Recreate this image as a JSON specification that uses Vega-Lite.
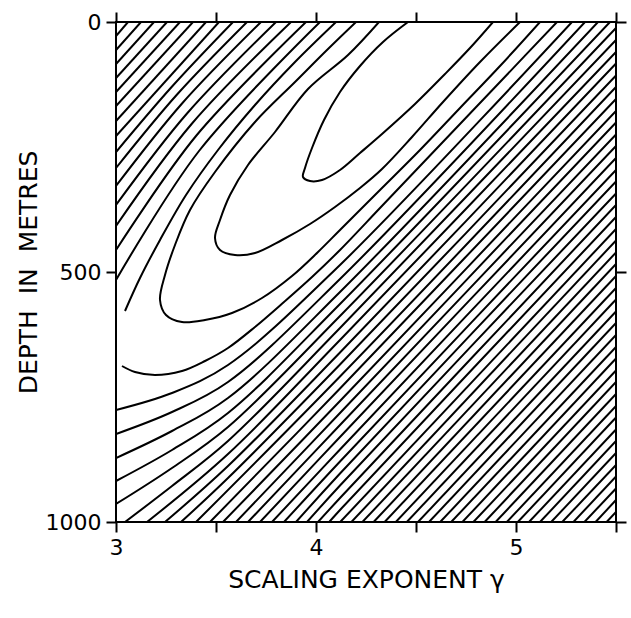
{
"$schema": "https://vega.github.io/schema/vega-lite/v6.json",
"width": 500, "height": 500,
"autosize": {"type": "none"},
"padding": {"left": 116, "top": 22, "right": 15, "bottom": 96},
"background": "white",
"config": {
 "view": {"stroke": "black", "strokeWidth": 2},
 "axis": {"domain": false, "grid": false, "tickColor": "black", "tickWidth": 2, "tickSize": 10, "labelColor": "black", "labelFont": "DejaVu Sans", "labelFontSize": 22, "titleFont": "DejaVu Sans", "titleFontSize": 25, "titleFontWeight": "normal", "titleColor": "black", "labelFlush": false}
},
"datasets": {"c": [
{"c":"A1","i":0,"g":3.06,"d":0},{"c":"A1","i":1,"g":3.0,"d":28},
{"c":"A2","i":0,"g":3.125,"d":0},{"c":"A2","i":1,"g":3.0,"d":56},
{"c":"A3","i":0,"g":3.19,"d":0},{"c":"A3","i":1,"g":3.0,"d":84},
{"c":"A4","i":0,"g":3.255,"d":0},{"c":"A4","i":1,"g":3.0,"d":112},
{"c":"A5","i":0,"g":3.32,"d":0},{"c":"A5","i":1,"g":3.0,"d":140},
{"c":"A6","i":0,"g":3.385,"d":0},{"c":"A6","i":1,"g":3.0,"d":168},
{"c":"A7","i":0,"g":3.45,"d":0},{"c":"A7","i":1,"g":3.0,"d":198},
{"c":"A8","i":0,"g":3.515,"d":0},{"c":"A8","i":1,"g":3.0,"d":228},
{"c":"A9","i":0,"g":3.585,"d":0},{"c":"A9","i":1,"g":3.278,"d":130},{"c":"A9","i":2,"g":3.0,"d":260},
{"c":"A10","i":0,"g":3.655,"d":0},{"c":"A10","i":1,"g":3.303,"d":146},{"c":"A10","i":2,"g":3.0,"d":292},
{"c":"A11","i":0,"g":3.725,"d":0},{"c":"A11","i":1,"g":3.328,"d":164},{"c":"A11","i":2,"g":3.0,"d":328},
{"c":"A12","i":0,"g":3.8,"d":0},{"c":"A12","i":1,"g":3.355,"d":183},{"c":"A12","i":2,"g":3.0,"d":366},
{"c":"A13","i":0,"g":3.875,"d":0},{"c":"A13","i":1,"g":3.378,"d":204},{"c":"A13","i":2,"g":3.0,"d":408},
{"c":"A14","i":0,"g":3.95,"d":0},{"c":"A14","i":1,"g":3.4,"d":228},{"c":"A14","i":2,"g":3.0,"d":456},
{"c":"A15","i":0,"g":4.02,"d":0},{"c":"A15","i":1,"g":3.415,"d":258},{"c":"A15","i":2,"g":3.0,"d":516},
{"c":"U4a","i":0,"g":4.1,"d":0},{"c":"U4a","i":1,"g":3.895,"d":80},{"c":"U4a","i":2,"g":3.695,"d":166},{"c":"U4a","i":3,"g":3.51,"d":256},{"c":"U4a","i":4,"g":3.35,"d":346},{"c":"U4a","i":5,"g":3.22,"d":436},{"c":"U4a","i":6,"g":3.12,"d":512},{"c":"U4a","i":7,"g":3.045,"d":578},
{"c":"U1","i":0,"g":4.46,"d":0},{"c":"U1","i":1,"g":4.335,"d":40},{"c":"U1","i":2,"g":4.22,"d":88},{"c":"U1","i":3,"g":4.12,"d":140},{"c":"U1","i":4,"g":4.04,"d":196},{"c":"U1","i":5,"g":3.98,"d":252},{"c":"U1","i":6,"g":3.945,"d":292},{"c":"U1","i":7,"g":3.935,"d":310},{"c":"U1","i":8,"g":3.97,"d":318},{"c":"U1","i":9,"g":4.03,"d":316},{"c":"U1","i":10,"g":4.12,"d":296},{"c":"U1","i":11,"g":4.22,"d":262},{"c":"U1","i":12,"g":4.33,"d":224},{"c":"U1","i":13,"g":4.495,"d":164},{"c":"U1","i":14,"g":4.645,"d":104},{"c":"U1","i":15,"g":4.77,"d":52},{"c":"U1","i":16,"g":4.885,"d":0},
{"c":"U2","i":0,"g":4.315,"d":0},{"c":"U2","i":1,"g":4.16,"d":66},{"c":"U2","i":2,"g":3.96,"d":134},{"c":"U2","i":3,"g":3.795,"d":220},{"c":"U2","i":4,"g":3.66,"d":286},{"c":"U2","i":5,"g":3.57,"d":346},{"c":"U2","i":6,"g":3.52,"d":396},{"c":"U2","i":7,"g":3.495,"d":432},{"c":"U2","i":8,"g":3.52,"d":456},{"c":"U2","i":9,"g":3.595,"d":466},{"c":"U2","i":10,"g":3.695,"d":462},{"c":"U2","i":11,"g":3.83,"d":436},{"c":"U2","i":12,"g":3.97,"d":404},{"c":"U2","i":13,"g":4.095,"d":370},{"c":"U2","i":14,"g":4.22,"d":332},{"c":"U2","i":15,"g":4.33,"d":294},{"c":"U2","i":16,"g":4.48,"d":230},{"c":"U2","i":17,"g":4.635,"d":160},{"c":"U2","i":18,"g":4.82,"d":80},{"c":"U2","i":19,"g":5.02,"d":0},
{"c":"U3","i":0,"g":4.2,"d":0},{"c":"U3","i":1,"g":4.06,"d":54},{"c":"U3","i":2,"g":3.895,"d":120},{"c":"U3","i":3,"g":3.695,"d":200},{"c":"U3","i":4,"g":3.495,"d":300},{"c":"U3","i":5,"g":3.37,"d":376},{"c":"U3","i":6,"g":3.295,"d":446},{"c":"U3","i":7,"g":3.245,"d":506},{"c":"U3","i":8,"g":3.22,"d":556},{"c":"U3","i":9,"g":3.25,"d":586},{"c":"U3","i":10,"g":3.33,"d":600},{"c":"U3","i":11,"g":3.445,"d":596},{"c":"U3","i":12,"g":3.58,"d":582},{"c":"U3","i":13,"g":3.73,"d":552},{"c":"U3","i":14,"g":3.88,"d":508},{"c":"U3","i":15,"g":4.01,"d":460},{"c":"U3","i":16,"g":4.12,"d":416},{"c":"U3","i":17,"g":4.32,"d":336},{"c":"U3","i":18,"g":4.52,"d":256},{"c":"U3","i":19,"g":4.72,"d":172},{"c":"U3","i":20,"g":4.92,"d":88},{"c":"U3","i":21,"g":5.12,"d":0},
{"c":"U4b","i":0,"g":3.03,"d":688},{"c":"U4b","i":1,"g":3.095,"d":700},{"c":"U4b","i":2,"g":3.195,"d":706},{"c":"U4b","i":3,"g":3.33,"d":698},{"c":"U4b","i":4,"g":3.445,"d":678},{"c":"U4b","i":5,"g":3.56,"d":652},{"c":"U4b","i":6,"g":3.695,"d":610},{"c":"U4b","i":7,"g":3.84,"d":560},{"c":"U4b","i":8,"g":3.98,"d":510},{"c":"U4b","i":9,"g":4.12,"d":456},{"c":"U4b","i":10,"g":4.32,"d":372},{"c":"U4b","i":11,"g":4.52,"d":288},{"c":"U4b","i":12,"g":4.72,"d":204},{"c":"U4b","i":13,"g":4.92,"d":120},{"c":"U4b","i":14,"g":5.205,"d":0},
{"c":"L5","i":0,"g":3.0,"d":776},{"c":"L5","i":1,"g":3.28,"d":742},{"c":"L5","i":2,"g":3.56,"d":686},{"c":"L5","i":3,"g":4.12,"d":486},{"c":"L5","i":4,"g":5.28,"d":0},
{"c":"L6","i":0,"g":3.0,"d":824},{"c":"L6","i":1,"g":3.28,"d":780},{"c":"L6","i":2,"g":3.56,"d":720},{"c":"L6","i":3,"g":4.12,"d":514},{"c":"L6","i":4,"g":5.345,"d":0},
{"c":"L7","i":0,"g":3.0,"d":872},{"c":"L7","i":1,"g":3.28,"d":818},{"c":"L7","i":2,"g":3.56,"d":752},{"c":"L7","i":3,"g":4.12,"d":540},{"c":"L7","i":4,"g":5.41,"d":0},
{"c":"L8","i":0,"g":3.0,"d":918},{"c":"L8","i":1,"g":3.28,"d":856},{"c":"L8","i":2,"g":3.56,"d":782},{"c":"L8","i":3,"g":4.12,"d":564},{"c":"L8","i":4,"g":5.47,"d":0},
{"c":"L9","i":0,"g":3.0,"d":964},{"c":"L9","i":1,"g":3.28,"d":892},{"c":"L9","i":2,"g":3.56,"d":810},{"c":"L9","i":3,"g":4.12,"d":588},{"c":"L9","i":4,"g":5.5,"d":12},
{"c":"k1","i":0,"g":3.045,"d":1000},{"c":"k1","i":1,"g":3.28,"d":928},{"c":"k1","i":2,"g":3.56,"d":838},{"c":"k1","i":3,"g":4.12,"d":612},{"c":"k1","i":4,"g":5.5,"d":36},
{"c":"k2","i":0,"g":3.155,"d":1000},{"c":"k2","i":1,"g":3.56,"d":864},{"c":"k2","i":2,"g":4.12,"d":636},{"c":"k2","i":3,"g":5.5,"d":60},
{"c":"k3","i":0,"g":3.245,"d":1000},{"c":"k3","i":1,"g":3.56,"d":888},{"c":"k3","i":2,"g":4.12,"d":661},{"c":"k3","i":3,"g":5.5,"d":83},
{"c":"k4","i":0,"g":3.325,"d":1000},{"c":"k4","i":1,"g":3.56,"d":912},{"c":"k4","i":2,"g":4.12,"d":685},{"c":"k4","i":3,"g":5.5,"d":107},
{"c":"k5","i":0,"g":3.4,"d":1000},{"c":"k5","i":1,"g":4.12,"d":709},{"c":"k5","i":2,"g":5.5,"d":130},
{"c":"k6","i":0,"g":3.47,"d":1000},{"c":"k6","i":1,"g":4.12,"d":733},{"c":"k6","i":2,"g":5.5,"d":154},
{"c":"k7","i":0,"g":3.535,"d":1000},{"c":"k7","i":1,"g":4.12,"d":758},{"c":"k7","i":2,"g":5.5,"d":178},
{"c":"k8","i":0,"g":3.6,"d":1000},{"c":"k8","i":1,"g":4.12,"d":782},{"c":"k8","i":2,"g":5.5,"d":201},
{"c":"k9","i":0,"g":3.66,"d":1000},{"c":"k9","i":1,"g":4.12,"d":806},{"c":"k9","i":2,"g":5.5,"d":225},
{"c":"k10","i":0,"g":3.72,"d":1000},{"c":"k10","i":1,"g":4.12,"d":830},{"c":"k10","i":2,"g":5.5,"d":248},
{"c":"k11","i":0,"g":3.78,"d":1000},{"c":"k11","i":1,"g":4.12,"d":855},{"c":"k11","i":2,"g":5.5,"d":272},
{"c":"k12","i":0,"g":3.84,"d":1000},{"c":"k12","i":1,"g":4.12,"d":879},{"c":"k12","i":2,"g":5.5,"d":296},
{"c":"k13","i":0,"g":3.9,"d":1000},{"c":"k13","i":1,"g":4.12,"d":903},{"c":"k13","i":2,"g":5.5,"d":319},
{"c":"k14","i":0,"g":3.955,"d":1000},{"c":"k14","i":1,"g":4.12,"d":927},{"c":"k14","i":2,"g":5.5,"d":343},
{"c":"k15","i":0,"g":4.01,"d":1000},{"c":"k15","i":1,"g":4.12,"d":952},{"c":"k15","i":2,"g":5.5,"d":366},
{"c":"k16","i":0,"g":4.066,"d":1000},{"c":"k16","i":1,"g":4.12,"d":976},{"c":"k16","i":2,"g":5.5,"d":390},
{"c":"k17","i":0,"g":4.121,"d":1000},{"c":"k17","i":1,"g":5.5,"d":414},
{"c":"k18","i":0,"g":4.177,"d":1000},{"c":"k18","i":1,"g":5.5,"d":437},
{"c":"k19","i":0,"g":4.232,"d":1000},{"c":"k19","i":1,"g":5.5,"d":461},
{"c":"k20","i":0,"g":4.288,"d":1000},{"c":"k20","i":1,"g":5.5,"d":484},
{"c":"k21","i":0,"g":4.343,"d":1000},{"c":"k21","i":1,"g":5.5,"d":508},
{"c":"k22","i":0,"g":4.399,"d":1000},{"c":"k22","i":1,"g":5.5,"d":532},
{"c":"k23","i":0,"g":4.454,"d":1000},{"c":"k23","i":1,"g":5.5,"d":555},
{"c":"k24","i":0,"g":4.51,"d":1000},{"c":"k24","i":1,"g":5.5,"d":579},
{"c":"k25","i":0,"g":4.565,"d":1000},{"c":"k25","i":1,"g":5.5,"d":602},
{"c":"k26","i":0,"g":4.621,"d":1000},{"c":"k26","i":1,"g":5.5,"d":626},
{"c":"k27","i":0,"g":4.676,"d":1000},{"c":"k27","i":1,"g":5.5,"d":650},
{"c":"k28","i":0,"g":4.732,"d":1000},{"c":"k28","i":1,"g":5.5,"d":673},
{"c":"k29","i":0,"g":4.787,"d":1000},{"c":"k29","i":1,"g":5.5,"d":697},
{"c":"k30","i":0,"g":4.843,"d":1000},{"c":"k30","i":1,"g":5.5,"d":720},
{"c":"k31","i":0,"g":4.898,"d":1000},{"c":"k31","i":1,"g":5.5,"d":744},
{"c":"k32","i":0,"g":4.954,"d":1000},{"c":"k32","i":1,"g":5.5,"d":768},
{"c":"k33","i":0,"g":5.009,"d":1000},{"c":"k33","i":1,"g":5.5,"d":791},
{"c":"k34","i":0,"g":5.065,"d":1000},{"c":"k34","i":1,"g":5.5,"d":815},
{"c":"k35","i":0,"g":5.12,"d":1000},{"c":"k35","i":1,"g":5.5,"d":838},
{"c":"k36","i":0,"g":5.176,"d":1000},{"c":"k36","i":1,"g":5.5,"d":862},
{"c":"k37","i":0,"g":5.231,"d":1000},{"c":"k37","i":1,"g":5.5,"d":886},
{"c":"k38","i":0,"g":5.287,"d":1000},{"c":"k38","i":1,"g":5.5,"d":909},
{"c":"k39","i":0,"g":5.342,"d":1000},{"c":"k39","i":1,"g":5.5,"d":933},
{"c":"k40","i":0,"g":5.398,"d":1000},{"c":"k40","i":1,"g":5.5,"d":956},
{"c":"k41","i":0,"g":5.453,"d":1000},{"c":"k41","i":1,"g":5.5,"d":980}
]},
"data": {"name": "c"},
"layer": [
 {"mark": {"type": "line", "interpolate": "catmull-rom", "color": "black", "strokeWidth": 2, "clip": true},
  "encoding": {
   "x": {"field": "g", "type": "quantitative", "scale": {"domain": [3, 5.5], "nice": false, "zero": false},
         "axis": {"orient": "bottom", "values": [3, 3.5, 4, 4.5, 5, 5.5], "labelExpr": "datum.value % 1 === 0 ? format(datum.value, 'd') : ''", "title": "SCALING\u00a0EXPONENT\u00a0γ", "labelPadding": 5, "titlePadding": 9}},
   "y": {"field": "d", "type": "quantitative", "scale": {"domain": [0, 1000], "reverse": true, "nice": false, "zero": false},
         "axis": {"orient": "left", "values": [0, 500, 1000], "format": "d", "title": "DEPTH\u00a0\u00a0IN\u00a0\u00a0METRES", "labelPadding": 5, "titlePadding": 4}},
   "detail": {"field": "c"},
   "order": {"field": "i", "type": "quantitative"}
  }},
 {"mark": {"type": "point", "opacity": 0},
  "encoding": {
   "x": {"field": "g", "type": "quantitative", "axis": {"orient": "top", "values": [3, 3.5, 4, 4.5, 5, 5.5], "labels": false, "title": null}},
   "y": {"field": "d", "type": "quantitative", "axis": {"orient": "right", "values": [0, 500, 1000], "labels": false, "title": null}}
  }}
],
"resolve": {"axis": {"x": "independent", "y": "independent"}}
}
